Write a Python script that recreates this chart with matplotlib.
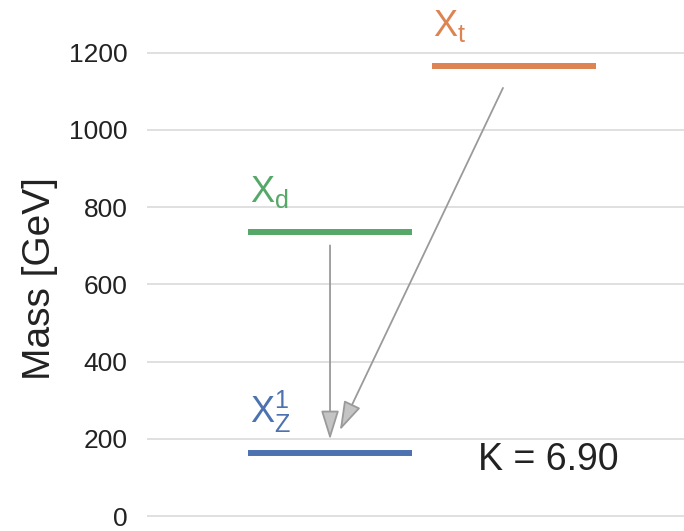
import matplotlib
matplotlib.use("Agg")
import matplotlib.pyplot as plt

# particle masses [GeV]
names = [r"$\mathrm{X_Z^1}$", r"$\mathrm{X_d}$", r"$\mathrm{X_t}$"]
masses = [163, 736, 1166]
x_start = [0.0, 0.0, 1.12]
x_end = [1.0, 1.0, 2.12]
colors = ["#4C72B0", "#55A868", "#DD8452"]

# decay arrows: (x0, m0) -> (x1, m1)
arrow_from = [(0.5, 701), (1.555, 1109)]
arrow_to = [(0.5, 198), (0.56, 222)]

k_value = 6.90

plt.rcParams["font.family"] = ["Liberation Sans", "DejaVu Sans"]
plt.rcParams["mathtext.fontset"] = "custom"
plt.rcParams["mathtext.rm"] = "Liberation Sans"
plt.rcParams["mathtext.it"] = "Liberation Sans"

fig = plt.figure(figsize=(6.84, 5.31), dpi=100)
ax = fig.add_axes([0.215, 0.0137, 0.785, 0.9814])

for name, m, xa, xb, c in zip(names, masses, x_start, x_end, colors):
    ax.plot([xa, xb], [m, m], color=c, lw=4.3, solid_capstyle="butt", zorder=3)
    ax.text(xa + 0.01, m + 77, name, color=c, fontsize=26, va="baseline", ha="left")

for (x0, y0), (x1, y1) in zip(arrow_from, arrow_to):
    ax.annotate("", xy=(x1, y1), xytext=(x0, y0),
                arrowprops=dict(arrowstyle="-|>,head_length=0.9,head_width=0.28",
                                mutation_scale=20,
                                edgecolor="#9a9a9a", facecolor="#c4c4c4",
                                lw=1.3, shrinkA=0, shrinkB=0),
                zorder=2)

ax.text(1.40, 120, "K = %.2f" % k_value, fontsize=27, color="#222222",
        va="baseline", ha="left")

ax.set_xlim(-0.616, 2.659)
ax.set_ylim(-20, 1330)
ax.set_yticks(range(0, 1201, 200))
ax.set_xticks([])
ax.grid(axis="y", color="#dddddd", lw=1.3)
ax.set_axisbelow(True)
for s in ax.spines.values():
    s.set_visible(False)
ax.tick_params(axis="y", length=0, pad=14, labelsize=19, labelcolor="#222222")
ax.set_ylabel("Mass [GeV]", fontsize=28, color="#222222", labelpad=8, y=0.47)

fig.savefig("out.png", dpi=100)
